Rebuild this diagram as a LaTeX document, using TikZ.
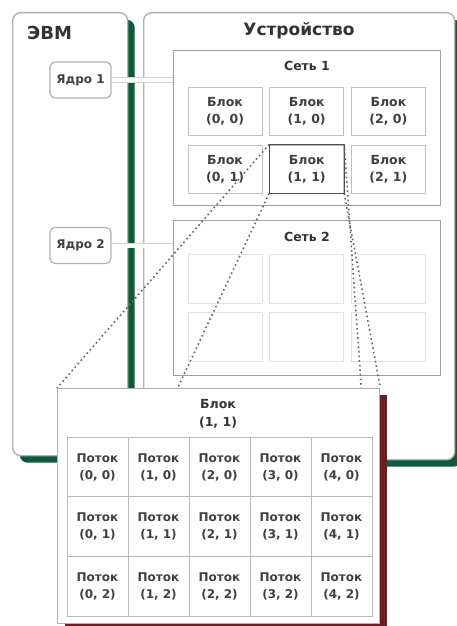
\documentclass[tikz,border=0pt]{standalone}
\usepackage{fontspec}
\setmainfont{DejaVu Sans}
\usetikzlibrary{calc,shadows}
\definecolor{evmgreen}{HTML}{0E5A3A}
\definecolor{blkred}{HTML}{6A1F24}
\tikzset{every picture/.style={/utils/exec={\bfseries}}}
\tikzset{
  outerbox/.style={draw=gray!60,line width=1.4pt,fill=white,rounded corners=8pt,inner sep=0pt,anchor=north west,
    drop shadow={shadow xshift=7pt,shadow yshift=-7pt,fill=evmgreen,opacity=1}},
  netbox/.style={draw=gray!75,line width=1.4pt,fill=white,inner sep=0pt,anchor=north west,minimum width=267pt,minimum height=155pt},
  corebox/.style={draw=gray!60,line width=1.2pt,fill=white,rounded corners=5pt,minimum width=61pt,minimum height=36pt,inner sep=0pt,
    text=black!75,font=\fontsize{12}{14}\selectfont},
  blockbox/.style={draw=gray!50,line width=1pt,align=center,minimum width=74pt,minimum height=48pt,inner sep=0pt,
    text=black!75,font=\fontsize{12.5}{17}\selectfont},
  emptybox/.style={draw=gray!22,line width=1pt,minimum width=74pt,minimum height=49pt,inner sep=0pt},
  cellbox/.style={draw=gray!55,line width=1pt,align=center,minimum width=61pt,minimum height=59.7pt,inner sep=0pt,
    text=black!75,font=\fontsize{12}{17}\selectfont},
  titletext/.style={text=black!80,inner sep=0pt},
  coreline/.style={gray!35,line width=0.8pt,double=white,double distance=4pt},
  dotline/.style={black!60,line width=1.6pt,dash pattern=on 1.6pt off 3pt}
}

\begin{document}
\begin{tikzpicture}[x=1pt,y=-1pt]
    \useasboundingbox [fill=white] (0,0) rectangle (457,626);
    % host and device
    \node [outerbox,minimum width=115pt,minimum height=443pt] (evm) at (12,12) {};
    \node [outerbox,minimum width=311pt,minimum height=447pt] (dev) at (143,12) {};
    \node [titletext,anchor=west,font=\fontsize{18}{20}\selectfont] (evmt) at (27,33) {ЭВМ};
    \node [titletext,font=\fontsize{17}{20}\selectfont] (devt) at (299,31) {Устройство};
    % grids
    \node [netbox] (net1) at (173,50) {};
    \node [netbox] (net2) at (173,220) {};
    \node [titletext,font=\fontsize{12.5}{15}\selectfont] (net1t) at (307,66) {Сеть 1};
    \node [titletext,font=\fontsize{12.5}{15}\selectfont] (net2t) at (307,237) {Сеть 2};
    \foreach \i in {0,1,2} {
        \foreach \j in {0,1} {
            \node [blockbox] (b\i\j) at (225+81.7*\i,111+58*\j) {Блок\\(\i, \j)};
            \node [emptybox] (e\i\j) at (225+81.7*\i,278.5+58.5*\j) {};
        }
    }
    \draw [black!70,line width=1.4pt] (b11.north west) rectangle (b11.south east);
    % cores
    \node [corebox] (core1) at (80.5,80) {Ядро 1};
    \node [corebox] (core2) at (80.5,245.5) {Ядро 2};
    \draw [coreline] (core1.east) -- (core1 -| net1.west);
    \draw [coreline] (core2.east) -- (core2 -| net2.west);
    % zoom of block (1,1)
    \node [draw=gray!60,line width=1.4pt,fill=white,inner sep=0pt,anchor=north west,minimum width=322pt,minimum height=235pt,
        drop shadow={shadow xshift=7pt,shadow yshift=-6pt,fill=blkred,opacity=1}] (big) at (57,388) {};
    \draw [dotline] (b11.north west) -- (big.north west);
    \draw [dotline] (b11.south west) -- ($(big.north west)!0.373!(big.north east)$);
    \draw [dotline] (b11.north east) -- ($(big.north west)!0.941!(big.north east)$);
    \draw [dotline] (b11.south east) -- (big.north east);
    \node [titletext,align=center,font=\fontsize{12.5}{18}\selectfont] (bigt) at (218,414) {Блок\\(1, 1)};
    \foreach \i in {0,...,4} {
        \foreach \j in {0,1,2} {
            \node [cellbox] (t\i\j) at (97.5+61*\i,467+59.7*\j) {Поток\\(\i, \j)};
        }
    }
\end{tikzpicture}
\end{document}
